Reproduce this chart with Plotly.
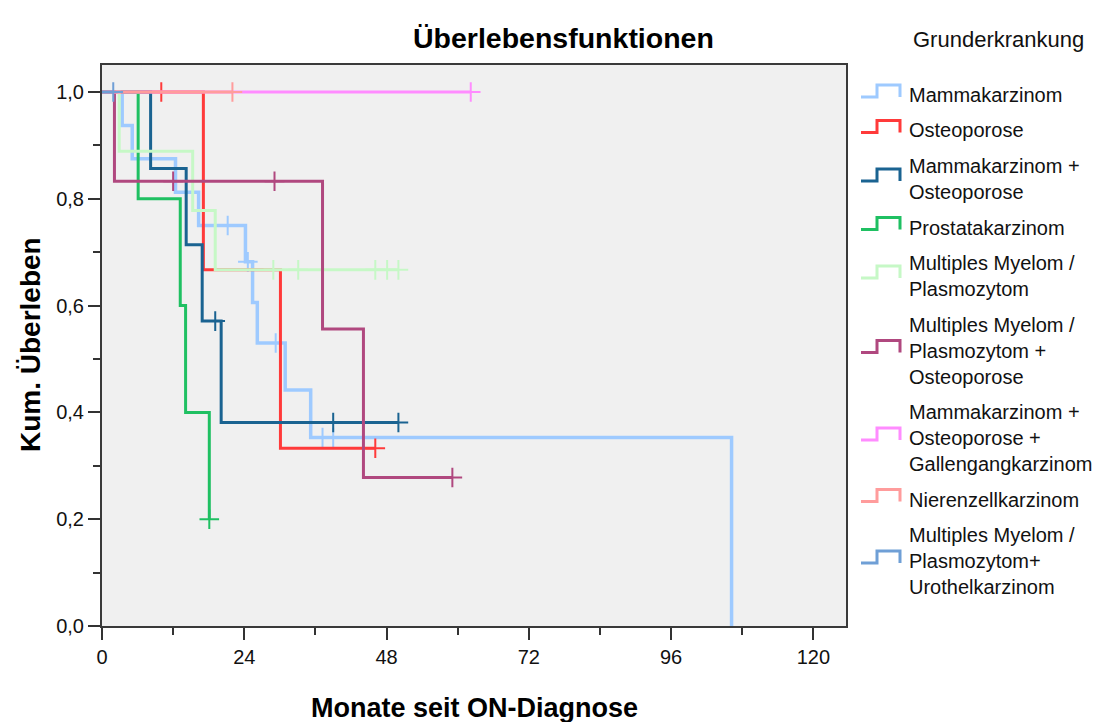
import plotly.graph_objects as go

# ---- Kaplan-Meier data (months since ON diagnosis) ----
# event times, survival after each event, censoring times
mamma_t = [3.4, 5.1, 12.4, 16.3, 24.2, 25.4, 26.2, 30.9, 35.2, 106.2]
mamma_s = [0.9375, 0.875, 0.8125, 0.75, 0.682, 0.606, 0.530, 0.442, 0.353, 0.0]
mamma_c = [21.2, 24.6, 29.3, 37.2, 39.0]

osteo_t = [17.1, 30.1]
osteo_s = [0.667, 0.333]
osteo_c = [10.0, 46.1]

mamma_osteo_t = [8.2, 14.2, 16.9, 20.1]
mamma_osteo_s = [0.857, 0.714, 0.571, 0.381]
mamma_osteo_c = [19.1, 39.0, 50.0]

prostata_t = [6.1, 13.2, 14.1, 18.1]
prostata_s = [0.8, 0.6, 0.4, 0.2]
prostata_c = [18.1]

mm_t = [2.9, 15.3, 19.1]
mm_s = [0.889, 0.778, 0.667]
mm_c = [28.9, 33.1, 46.1, 48.1, 50.0]

mm_osteo_t = [2.1, 37.2, 44.1]
mm_osteo_s = [0.833, 0.556, 0.278]
mm_osteo_c = [12.0, 29.1, 59.1]

mamma_osteo_galle_t = []
mamma_osteo_galle_s = []
mamma_osteo_galle_c = [62.2]

niere_t = []
niere_s = []
niere_c = [22.0]

mm_uro_t = []
mm_uro_s = []
mm_uro_c = [1.9]

group_labels = [
    ["Mammakarzinom"],
    ["Osteoporose"],
    ["Mammakarzinom +", "Osteoporose"],
    ["Prostatakarzinom"],
    ["Multiples Myelom /", "Plasmozytom"],
    ["Multiples Myelom /", "Plasmozytom +", "Osteoporose"],
    ["Mammakarzinom +", "Osteoporose +", "Gallengangkarzinom"],
    ["Nierenzellkarzinom"],
    ["Multiples Myelom /", "Plasmozytom+", "Urothelkarzinom"],
]
group_colors = ["#9ECAFF", "#FF3A3A", "#1A6391", "#1FC062", "#C6F8C6",
                "#B0487F", "#FF8CFF", "#FF9C9C", "#6F9FD6"]
group_widths = [3.5, 3, 3, 3, 3, 3, 3, 3, 3]

groups = [
    (mamma_t, mamma_s, mamma_c),
    (osteo_t, osteo_s, osteo_c),
    (mamma_osteo_t, mamma_osteo_s, mamma_osteo_c),
    (prostata_t, prostata_s, prostata_c),
    (mm_t, mm_s, mm_c),
    (mm_osteo_t, mm_osteo_s, mm_osteo_c),
    (mamma_osteo_galle_t, mamma_osteo_galle_s, mamma_osteo_galle_c),
    (niere_t, niere_s, niere_c),
    (mm_uro_t, mm_uro_s, mm_uro_c),
]

SANS = "Liberation Sans, Arial, sans-serif"


def surv_at(t_ev, s_ev, t):
    s = 1.0
    for te, se in zip(t_ev, s_ev):
        if te <= t:
            s = se
    return s


fig = go.Figure()
for (t_ev, s_ev, t_c), col, lw, lab in zip(groups, group_colors, group_widths, group_labels):
    end = max(t_ev + t_c)
    xs = [0] + t_ev + [end]
    ys = [1.0] + s_ev + [s_ev[-1] if s_ev else 1.0]
    fig.add_trace(go.Scatter(
        x=xs, y=ys, mode="lines", line=dict(color=col, width=lw, shape="hv"),
        name=" ".join(lab), showlegend=False, hoverinfo="skip"))
    fig.add_trace(go.Scatter(
        x=t_c, y=[surv_at(t_ev, s_ev, t) for t in t_c], mode="markers",
        marker=dict(symbol="cross-thin", size=14, line=dict(color=col, width=2)),
        showlegend=False, hoverinfo="skip"))

# ---- layout geometry (pixels) ----
W, H = 1111, 722
L, R, T, B = 102, 265, 65, 96
PW, PH = W - L - R, H - T - B


def px(x):
    return (x - L) / PW


def py(y):
    return (H - B - y) / PH


annotations = [
    dict(text="<b>Überlebensfunktionen</b>", x=px(563), y=py(38),
         font=dict(family=SANS, size=28.5, color="#000")),
    dict(text="Grunderkrankung", x=px(911), y=py(40), xanchor="left",
         font=dict(family=SANS, size=22, color="#111")),
    dict(text="<b>Monate seit ON-Diagnose</b>", x=px(474), y=py(708),
         font=dict(family=SANS, size=27, color="#000")),
    dict(text="<b>Kum. Überleben</b>", x=px(30), y=py(345), textangle=-90,
         font=dict(family=SANS, size=28, color="#000")),
]
for a in annotations:
    a.update(xref="paper", yref="paper", showarrow=False)
    a.setdefault("xanchor", "center")
    a["yanchor"] = "middle"

# ---- legend: step glyph + text block per group ----
shapes = []
LEG_FONT = 20
line_gap = LEG_FONT * 1.3
entry_gap = 35.5
y = 95.0
for lab, col in zip(group_labels, group_colors):
    n = len(lab)
    c = y + (n - 1) * line_gap / 2
    annotations.append(dict(
        text="<br>".join(lab), x=px(907), y=py(c), xref="paper", yref="paper",
        xanchor="left", yanchor="middle", align="left", showarrow=False,
        font=dict(family=SANS, size=LEG_FONT, color="#111")))
    top, low = c - 10, c + 2
    path = (f"M {px(861)},{py(low)} L {px(877)},{py(low)} L {px(877)},{py(top)} "
            f"L {px(900)},{py(top)} L {px(900)},{py(low)}")
    shapes.append(dict(type="path", path=path, xref="paper", yref="paper",
                       line=dict(color=col, width=3)))
    y = y + (n - 1) * line_gap + entry_gap

axis_common = dict(
    showline=True, linecolor="#3A3A3A", linewidth=2, mirror=True,
    showgrid=False, zeroline=False, ticks="outside", ticklen=12,
    tickwidth=2, tickcolor="#333",
    tickfont=dict(family=SANS, size=20, color="#111"),
)

fig.update_layout(
    width=W, height=H,
    margin=dict(l=L, r=R, t=T, b=B),
    paper_bgcolor="white", plot_bgcolor="#F0F0F0",
    separators=",.",
    showlegend=False,
    annotations=annotations,
    shapes=shapes,
    xaxis=dict(axis_common, range=[0, 125.5], tick0=0, dtick=24,
               minor=dict(dtick=12, ticks="outside", ticklen=7, tickwidth=1.5,
                          tickcolor="#333")),
    yaxis=dict(axis_common, range=[0, 1.0506], tick0=0, dtick=0.2,
               tickformat=".1f",
               minor=dict(dtick=0.1, ticks="outside", ticklen=7, tickwidth=1.5,
                          tickcolor="#333")),
)

fig.write_html("out.html")
